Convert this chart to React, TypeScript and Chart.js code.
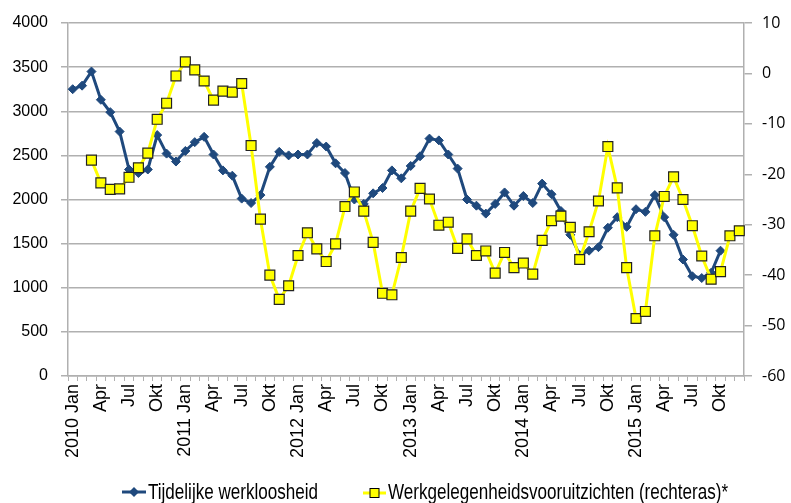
import React, { useEffect, useRef } from "react";
import { Chart, registerables } from "chart.js";

Chart.register(...registerables);

const years = ["2010", "2011", "2012", "2013", "2014", "2015"];
const months = ["Jan", "Feb", "Mrt", "Apr", "Mei", "Jun", "Jul", "Aug", "Sep", "Okt", "Nov", "Dec"];
const shownMonths = ["Jan", "Apr", "Jul", "Okt"];

const tijdelijkeWerkloosheid: (number | null)[] = [
  3250, 3290, 3450, 3130, 2990, 2770, 2340, 2300, 2340, 2730, 2520, 2430,
  2550, 2650, 2710, 2510, 2330, 2270, 2010, 1960, 2050, 2370, 2540, 2500,
  2510, 2510, 2640, 2600, 2410, 2300, 2000, 1950, 2070, 2130, 2330, 2240,
  2380, 2490, 2690, 2670, 2510, 2350, 2000, 1930, 1840, 1950, 2080, 1930,
  2040, 1960, 2180, 2060, 1870, 1600, 1370, 1420, 1460, 1680, 1800, 1690,
  1890, 1860, 2050, 1800, 1600, 1320, 1130, 1110, 1170, 1420, null, null,
];

const werkgelegenheidsvooruitzichten: (number | null)[] = [
  null, null, -17.2, -21.7, -23.0, -22.9, -20.6, -18.7, -15.8, -9.1, -5.9, -0.5,
  2.3, 0.7, -1.5, -5.3, -3.5, -3.7, -2.0, -14.3, -28.9, -40.0, -44.8, -42.1,
  -36.1, -31.6, -34.8, -37.3, -33.8, -26.4, -23.5, -27.3, -33.5, -43.6, -43.9, -36.5,
  -27.3, -22.8, -24.9, -30.1, -29.5, -34.7, -32.8, -36.1, -35.2, -39.6, -35.5, -38.5,
  -37.6, -39.8, -33.1, -29.2, -28.3, -30.5, -36.9, -31.4, -25.3, -14.5, -22.7, -38.5,
  -48.6, -47.2, -32.2, -24.4, -20.5, -25.0, -30.2, -36.2, -40.8, -39.3, -32.2, -31.2,
];

const seriesNames = ["Tijdelijke werkloosheid", "Werkgelegenheidsvooruitzichten (rechteras)*"];

const categories: string[] = [];
years.forEach((y) => months.forEach((m) => categories.push(m === "Jan" ? `${y} Jan` : m)));

const BLUE = "#1F497D";
const YELLOW = "#FFFF00";
const GRID = "#b0b0b0";

export default function App() {
  const ref = useRef<HTMLCanvasElement | null>(null);

  useEffect(() => {
    document.body.style.margin = "0";
    const canvas = ref.current!;

    const legendPlugin = {
      id: "customLegend",
      afterDraw(chart: any) {
        const ctx = chart.ctx as CanvasRenderingContext2D;
        ctx.save();
        const narrow = "22px 'Liberation Sans Narrow', 'Arial Narrow', sans-serif";
        ctx.font = narrow;
        let useScale = 1;
        let font = narrow;
        const w = ctx.measureText(seriesNames[0]).width;
        if (w > 190) {
          font = "22px 'Liberation Sans', Arial, sans-serif";
          ctx.font = font;
          useScale = 170 / ctx.measureText(seriesNames[0]).width;
        }
        const y = 492;
        // blue item
        ctx.strokeStyle = BLUE;
        ctx.lineWidth = 3;
        ctx.beginPath();
        ctx.moveTo(122, y);
        ctx.lineTo(146, y);
        ctx.stroke();
        ctx.fillStyle = BLUE;
        ctx.beginPath();
        ctx.moveTo(134 - 5, y);
        ctx.lineTo(134, y - 5);
        ctx.lineTo(134 + 5, y);
        ctx.lineTo(134, y + 5);
        ctx.closePath();
        ctx.fill();
        // yellow item
        ctx.strokeStyle = YELLOW;
        ctx.beginPath();
        ctx.moveTo(363, y + 1);
        ctx.lineTo(386, y + 1);
        ctx.stroke();
        ctx.fillStyle = YELLOW;
        ctx.fillRect(370, y - 3.5, 9, 9);
        ctx.strokeStyle = "#000";
        ctx.lineWidth = 1;
        ctx.strokeRect(370, y - 3.5, 9, 9);
        // texts
        ctx.fillStyle = "#000";
        ctx.font = font;
        ctx.textBaseline = "middle";
        ctx.textAlign = "left";
        const drawText = (t: string, x: number) => {
          ctx.save();
          ctx.translate(x, y + 1);
          ctx.scale(useScale, 1);
          ctx.fillText(t, 0, 0);
          ctx.restore();
        };
        drawText(seriesNames[0], 148);
        drawText(seriesNames[1], 388);
        ctx.restore();
      },
    };

    const chart = new Chart(canvas, {
      type: "line",
      data: {
        labels: categories,
        datasets: [
          {
            label: seriesNames[0],
            data: tijdelijkeWerkloosheid,
            yAxisID: "y",
            borderColor: BLUE,
            backgroundColor: BLUE,
            borderWidth: 3,
            pointStyle: "rectRot",
            pointRadius: 4.5,
            pointBorderWidth: 1,
            pointBorderColor: BLUE,
            pointBackgroundColor: BLUE,
            tension: 0,
            spanGaps: false,
            order: 1,
          },
          {
            label: seriesNames[1],
            data: werkgelegenheidsvooruitzichten,
            yAxisID: "y1",
            borderColor: YELLOW,
            backgroundColor: YELLOW,
            borderWidth: 3,
            pointStyle: "rect",
            pointRadius: 7,
            pointBorderWidth: 1.2,
            pointBorderColor: "#222",
            pointBackgroundColor: YELLOW,
            tension: 0,
            order: 0,
          },
        ],
      },
      options: {
        responsive: false,
        animation: false,
        layout: { padding: { top: 23, bottom: 30, left: 0, right: 0 } },
        plugins: {
          legend: { display: false },
          tooltip: { enabled: false },
        },
        scales: {
          x: {
            type: "category",
            offset: true,
            grid: {
              offset: true,
              drawOnChartArea: false,
              drawTicks: true,
              tickLength: 5,
              color: GRID,
              lineWidth: 1,
            },
            border: { display: true, color: GRID, width: 1.5 },
            ticks: {
              autoSkip: false,
              maxRotation: 90,
              minRotation: 90,
              padding: 3,
              color: "#000",
              font: { family: "'Liberation Sans', Arial, sans-serif", size: 18 },
              callback: function (this: any, _v: any, i: number) {
                const m = months[i % 12];
                return shownMonths.includes(m) ? categories[i] : "";
              },
            },
            afterFit(scale: any) {
              scale.height = 97;
            },
          },
          y: {
            position: "left",
            min: 0,
            max: 4000,
            grid: { color: GRID, lineWidth: 1.5, tickLength: 7 },
            border: { display: true, color: GRID, width: 1.5 },
            ticks: {
              stepSize: 500,
              padding: 13,
              color: "#000",
              font: { family: "'Liberation Sans', Arial, sans-serif", size: 16 },
              callback: (v: any) => String(v),
            },
            afterFit(scale: any) {
              scale.width = 68;
            },
          },
          y1: {
            position: "right",
            min: -60,
            max: 10,
            grid: { drawOnChartArea: false, color: GRID, lineWidth: 1.5, tickLength: 8 },
            border: { display: true, color: GRID, width: 1.5 },
            ticks: {
              stepSize: 10,
              padding: 10,
              color: "#000",
              font: { family: "'Open Sans', sans-serif", size: 16 },
              callback: (v: any) => String(v),
            },
            afterFit(scale: any) {
              scale.width = 47;
            },
          },
        },
      },
      plugins: [legendPlugin],
    });

    return () => chart.destroy();
  }, []);

  return <canvas ref={ref} width={791} height={503} style={{ display: "block" }} />;
}
